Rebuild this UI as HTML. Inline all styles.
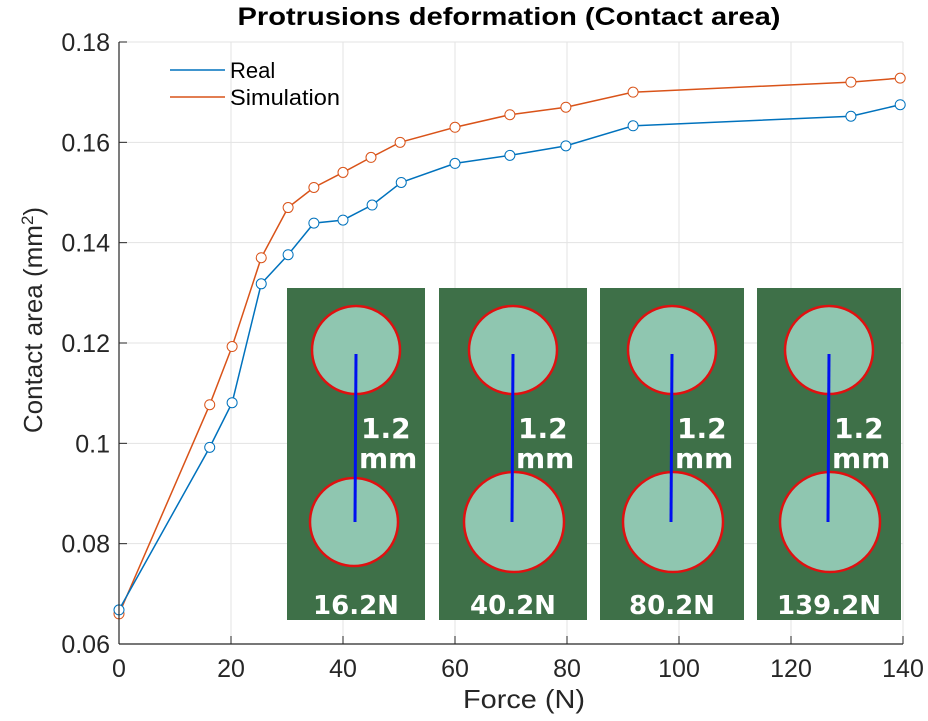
<!DOCTYPE html>
<html><head><meta charset="utf-8"><style>
body{margin:0;background:#fff;}
svg{display:block;font-family:"Liberation Sans",Arial,sans-serif;}
</style></head><body>
<svg id="chart" width="928" height="721" xmlns="http://www.w3.org/2000/svg">
<g id="grid"></g>
<g id="photos"></g>
<g id="series"></g>
<g id="axes"></g>
<text x="509" y="25" text-anchor="middle" font-size="25" font-weight="bold" fill="#000" textLength="543" lengthAdjust="spacingAndGlyphs">Protrusions deformation (Contact area)</text>
<text x="524" y="708" text-anchor="middle" font-size="26" fill="#262626" textLength="122" lengthAdjust="spacingAndGlyphs">Force (N)</text>
<text transform="translate(42,320) rotate(-90)" text-anchor="middle" font-size="26" fill="#262626">Contact area (mm<tspan baseline-shift="super" font-size="17">2</tspan>)</text>
<g>
<line x1="170" y1="70" x2="225" y2="70" stroke="#0072BD" stroke-width="1.5"/>
<text x="230" y="78" font-size="22" fill="#000">Real</text>
<line x1="170" y1="97" x2="225" y2="97" stroke="#D95319" stroke-width="1.5"/>
<text x="230" y="105" font-size="22" fill="#000" textLength="110" lengthAdjust="spacingAndGlyphs">Simulation</text>
</g>
</svg>
<script>
const forceReal=[0,16.2,20.2,25.4,30.2,34.8,40,45.2,50.4,60,69.8,79.8,91.8,130.7,139.5];
const areaReal=[0.0668,0.0992,0.1081,0.1318,0.1376,0.1439,0.1445,0.1475,0.152,0.1558,0.1574,0.1593,0.1633,0.1652,0.1675];
const forceSim=[0,16.2,20.2,25.4,30.2,34.8,40,45,50.2,60,69.8,79.8,91.8,130.7,139.5];
const areaSim=[0.066,0.1077,0.1193,0.137,0.147,0.151,0.154,0.157,0.160,0.163,0.1655,0.167,0.170,0.172,0.1728];
const xTicks=[0,20,40,60,80,100,120,140];
const yTicks=[0.06,0.08,0.1,0.12,0.14,0.16,0.18];
const yTickLabels=["0.06","0.08","0.1","0.12","0.14","0.16","0.18"];
const photoLabels=["16.2N","40.2N","80.2N","139.2N"];

const NS="http://www.w3.org/2000/svg";
const X0=119,X1=903,Y0=644,Y1=42;
function xs(v){return X0+(v-0)/(140-0)*(X1-X0);}
function ys(v){return Y0-(v-0.06)/(0.18-0.06)*(Y0-Y1);}
function mk(tag,attrs,parent){const e=document.createElementNS(NS,tag);for(const k in attrs)e.setAttribute(k,attrs[k]);parent.appendChild(e);return e;}
const grid=document.getElementById('grid'),axes=document.getElementById('axes'),series=document.getElementById('series'),photos=document.getElementById('photos');

xTicks.forEach(t=>{
  const g=mk('line',{x1:xs(t),x2:xs(t),y1:Y1,y2:Y0,stroke:'#e3e3e3','stroke-width':1},grid);
  
  
  const tk=mk('line',{x1:xs(t),x2:xs(t),y1:Y0,y2:Y0-8,stroke:'#262626','stroke-width':1},axes);
  
  
  const l=mk('text',{x:xs(t),y:Y0+33,'text-anchor':'middle','font-size':25,fill:'#262626'},axes);
  l.textContent=t;
  
  
});
yTicks.forEach((t,i)=>{
  const g=mk('line',{x1:X0,x2:X1,y1:ys(t),y2:ys(t),stroke:'#e3e3e3','stroke-width':1},grid);
  
  
  const tk=mk('line',{x1:X0,x2:X0+8,y1:ys(t),y2:ys(t),stroke:'#262626','stroke-width':1},axes);
  
  
  const l=mk('text',{x:X0-9,y:ys(t)+9,'text-anchor':'end','font-size':25,fill:'#262626'},axes);
  l.textContent=yTickLabels[i];
  
  
});
const xa=mk('line',{x1:X0,x2:X1,y1:Y0,y2:Y0,stroke:'#262626','stroke-width':1.2},axes);


const ya=mk('line',{x1:X0,x2:X0,y1:Y1,y2:Y0,stroke:'#262626','stroke-width':1.2},axes);



const px=[[287,425],[439,587],[600,744],[757,901]];
px.forEach((p,i)=>{
  const w=p[1]-p[0],cx=(p[0]+p[1])/2;
  const r=mk('rect',{x:p[0],y:288,width:w,height:332,fill:'#3e7048'},photos);
  
  
  const c1=mk('circle',{cx:cx,cy:350,r:44,fill:'#8fc6b0',stroke:'#e01010','stroke-width':2.5},photos);
  
  
  const c2=mk('circle',{cx:cx-2+(i?3:0),cy:522,r:44+(i?6:0),fill:'#8fc6b0',stroke:'#e01010','stroke-width':2.5},photos);
  
  
  const bl=mk('line',{x1:cx,y1:354,x2:cx-1,y2:522,stroke:'#0010f0','stroke-width':3},photos);
  
  
  const t1=mk('text',{x:cx+5,y:438,'font-size':28,'font-weight':'bold',fill:'#fff','font-family':'DejaVu Sans, sans-serif'},photos);
  t1.textContent='1.2';
  
  
  const t2=mk('text',{x:cx+3,y:468,'font-size':28,'font-weight':'bold',fill:'#fff','font-family':'DejaVu Sans, sans-serif'},photos);
  t2.textContent='mm';
  
  
  const t3=mk('text',{x:cx,y:614,'text-anchor':'middle','font-size':26,'font-weight':'bold',fill:'#fff','font-family':'DejaVu Sans, sans-serif'},photos);
  t3.textContent=photoLabels[i];
  
  
});

function drawSeries(fx,fy,color,name){
  const pts=fx.map((f,i)=>xs(f)+','+ys(fy[i])).join(' ');
  const pl=mk('polyline',{points:pts,fill:'none',stroke:color,'stroke-width':1.5},series);
  
  
  fx.forEach((f,i)=>{
    const c=mk('circle',{cx:xs(f),cy:ys(fy[i]),r:5,fill:'#fff',stroke:color,'stroke-width':1},series);
    
    
  });
}
drawSeries(forceSim,areaSim,'#D95319','simulation');
drawSeries(forceReal,areaReal,'#0072BD','real');
</script>
</body></html>
